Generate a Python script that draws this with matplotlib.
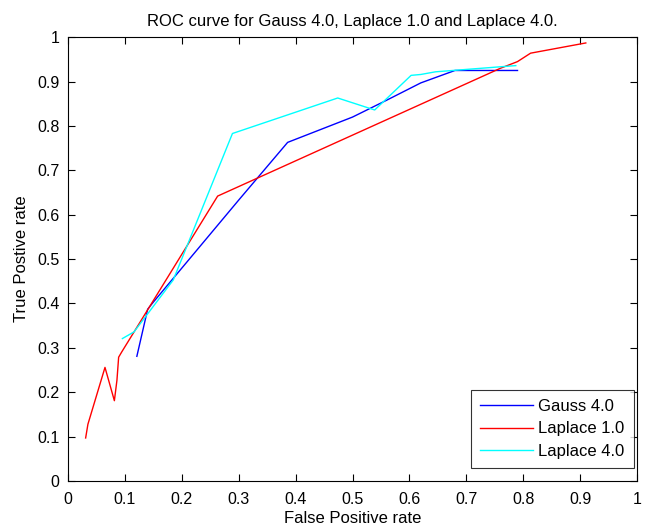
import matplotlib
matplotlib.use("Agg")
import matplotlib.pyplot as plt

# ROC points
gauss4_fpr = [0.121, 0.140, 0.148, 0.300, 0.386, 0.500, 0.560, 0.620, 0.680, 0.790]
gauss4_tpr = [0.281, 0.387, 0.400, 0.633, 0.763, 0.820, 0.858, 0.897, 0.925, 0.925]

laplace1_fpr = [0.031, 0.035, 0.065, 0.0815, 0.086, 0.089, 0.0945, 0.263, 0.760, 0.790, 0.813, 0.910]
laplace1_tpr = [0.097, 0.128, 0.256, 0.181, 0.227, 0.279, 0.291, 0.642, 0.930, 0.945, 0.964, 0.987]

laplace4_fpr = [0.0956, 0.116, 0.185, 0.289, 0.474, 0.539, 0.603, 0.620, 0.646, 0.787]
laplace4_tpr = [0.321, 0.336, 0.453, 0.783, 0.863, 0.836, 0.914, 0.916, 0.922, 0.936]

ticks = [0, 0.1, 0.2, 0.3, 0.4, 0.5, 0.6, 0.7, 0.8, 0.9, 1]
tick_labels = ["0", "0.1", "0.2", "0.3", "0.4", "0.5", "0.6", "0.7", "0.8", "0.9", "1"]

plt.rcParams["font.family"] = ["Liberation Sans", "DejaVu Sans"]
plt.rcParams["font.size"] = 12

fig = plt.figure(figsize=(6.52, 5.29), dpi=100)
ax = fig.add_axes([0.1043, 0.0907, 0.8727, 0.839])

ax.plot(gauss4_fpr, gauss4_tpr, color="#0000ff", lw=1.0, label="Gauss 4.0")
ax.plot(laplace1_fpr, laplace1_tpr, color="#ff0000", lw=1.0, label="Laplace 1.0")
ax.plot(laplace4_fpr, laplace4_tpr, color="#00ffff", lw=1.0, label="Laplace 4.0")

ax.set_xlim(0, 1)
ax.set_ylim(0, 1)
ax.set_xticks(ticks)
ax.set_xticklabels(tick_labels)
ax.set_yticks(ticks)
ax.set_yticklabels(tick_labels)
ax.tick_params(direction="in", length=5, top=True, right=True, width=0.8, labelsize=11.5)
ax.tick_params(axis="x", pad=8)
ax.tick_params(axis="y", pad=6)
for s in ax.spines.values():
    s.set_linewidth(0.8)

ax.set_xlabel("False Positive rate", labelpad=3)
ax.set_ylabel("True Postive rate", labelpad=6)
ax.set_title("ROC curve for Gauss 4.0, Laplace 1.0 and Laplace 4.0.", pad=8,
             family=["Liberation Sans Narrow", "Liberation Sans"], fontsize=12)

leg = ax.legend(loc="lower right", fancybox=False, edgecolor="black",
                handlelength=3.2, handletextpad=0.3, borderpad=0.55,
                labelspacing=0.45, borderaxespad=0,
                bbox_to_anchor=(0.994, 0.029))
leg.get_frame().set_linewidth(0.8)

fig.savefig("out.png", dpi=100)
